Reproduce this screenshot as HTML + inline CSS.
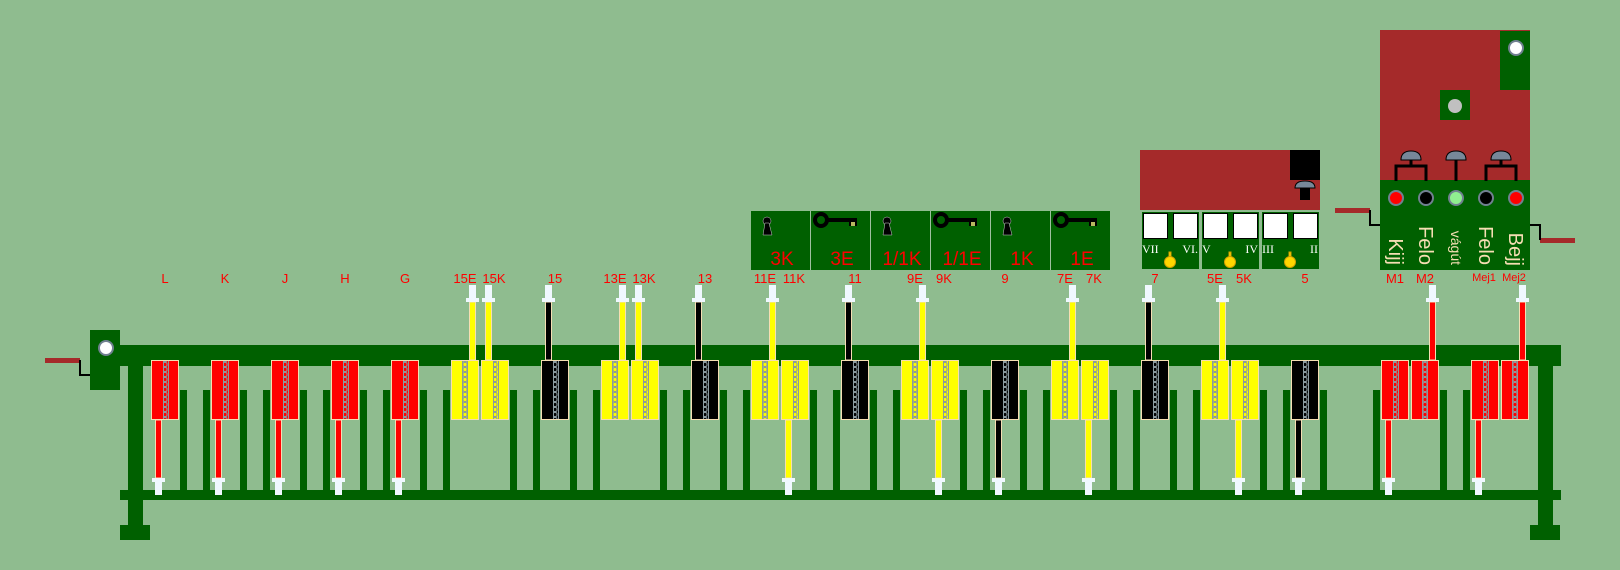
<!DOCTYPE html>
<html><head><meta charset="utf-8"><style>
html,body{margin:0;padding:0;background:#8fbc8f;}
svg{display:block;}
text{font-family:"Liberation Sans",sans-serif;}
</style></head><body>
<svg id="s" width="1620" height="570" xmlns="http://www.w3.org/2000/svg">
<defs>
<pattern id="ch" x="0" y="362" width="6" height="5" patternUnits="userSpaceOnUse">
<rect x="1" y="0.5" width="4" height="4" rx="1.5" fill="none" stroke="#8a9aa0" stroke-width="1"/>
</pattern>
</defs>
<rect width="1620" height="570" fill="#8fbc8f"/>
<g fill="#006000">
<rect x="90" y="330" width="30" height="60"/>
<rect x="120" y="345" width="1441" height="21"/>
<rect x="120" y="490" width="1441" height="10"/>
<rect x="128" y="365" width="15" height="160"/>
<rect x="1538" y="365" width="15" height="160"/>
<rect x="120" y="525" width="30" height="15"/>
<rect x="1530" y="525" width="30" height="15"/>
</g>
<circle cx="106" cy="348" r="7" fill="#fff" stroke="#708090" stroke-width="2"/>
<rect x="45" y="358" width="35" height="5" fill="#a52a2a"/>
<polyline points="80,360 80,375 90,375" fill="none" stroke="#000" stroke-width="2"/>
<g id="pillars" fill="#006000"></g>
<g id="levers"></g>
<g fill="#ff0000" font-size="13" text-anchor="middle">
<text x="165" y="283">L</text><text x="225" y="283">K</text><text x="285" y="283">J</text><text x="345" y="283">H</text><text x="405" y="283">G</text>
<text x="465" y="283">15E</text><text x="494" y="283">15K</text><text x="555" y="283">15</text>
<text x="615" y="283">13E</text><text x="644" y="283">13K</text><text x="705" y="283">13</text>
<text x="765" y="283">11E</text><text x="794" y="283">11K</text><text x="855" y="283">11</text>
<text x="915" y="283">9E</text><text x="944" y="283">9K</text><text x="1005" y="283">9</text>
<text x="1065" y="283">7E</text><text x="1094" y="283">7K</text><text x="1155" y="283">7</text>
<text x="1215" y="283">5E</text><text x="1244" y="283">5K</text><text x="1305" y="283">5</text>
<text x="1395" y="283">M1</text><text x="1425" y="283">M2</text>
<text x="1484" y="281" font-size="11">Mej1</text><text x="1514" y="281" font-size="11">Mej2</text>
</g>
<rect x="751" y="211" width="359" height="59" fill="#006000"/>
<g stroke="#9fc09f" stroke-width="1">
<line x1="810.5" y1="211" x2="810.5" y2="270"/><line x1="870.5" y1="211" x2="870.5" y2="270"/><line x1="930.5" y1="211" x2="930.5" y2="270"/><line x1="990.5" y1="211" x2="990.5" y2="270"/><line x1="1050.5" y1="211" x2="1050.5" y2="270"/>
</g>
<g id="keys"></g>
<g fill="#ff0000" font-size="19" text-anchor="middle">
<text x="782" y="265">3K</text><text x="842" y="265">3E</text><text x="902" y="265">1/1K</text><text x="962" y="265">1/1E</text><text x="1022" y="265">1K</text><text x="1082" y="265">1E</text>
</g>
<rect x="1140" y="150" width="180" height="60" fill="#a52a2a"/>
<rect x="1290" y="150" width="30" height="30" fill="#000"/>
<path d="M1295,188 Q1295,181 1305,181 Q1315,181 1315,188 Z" fill="#778899" stroke="#000" stroke-width="1"/>
<rect x="1300" y="188" width="10" height="12" fill="#000"/>
<g fill="#006000"><rect x="1142" y="212" width="57" height="57"/><rect x="1202" y="212" width="57" height="57"/><rect x="1262" y="212" width="57" height="57"/></g>
<g fill="#fff" stroke="#000" stroke-width="1">
<rect x="1143.5" y="213.5" width="24" height="25"/><rect x="1173.5" y="213.5" width="24" height="25"/>
<rect x="1203.5" y="213.5" width="24" height="25"/><rect x="1233.5" y="213.5" width="24" height="25"/>
<rect x="1263.5" y="213.5" width="24" height="25"/><rect x="1293.5" y="213.5" width="24" height="25"/>
</g>
<g fill="#fff" font-size="12">
<text x="1142" y="253" style="font-family:'Liberation Serif',serif">VII</text><text x="1198" y="253" text-anchor="end" style="font-family:'Liberation Serif',serif">VI.</text>
<text x="1202" y="253" style="font-family:'Liberation Serif',serif">V</text><text x="1258" y="253" text-anchor="end" style="font-family:'Liberation Serif',serif">IV</text>
<text x="1262" y="253" style="font-family:'Liberation Serif',serif">III</text><text x="1318" y="253" text-anchor="end" style="font-family:'Liberation Serif',serif">II</text>
</g>
<g fill="#ffd700" stroke="#d4a000" stroke-width="1">
<rect x="1169" y="252" width="2" height="5"/><circle cx="1170" cy="262" r="5.5"/>
<rect x="1229" y="252" width="2" height="5"/><circle cx="1230" cy="262" r="5.5"/>
<rect x="1289" y="252" width="2" height="5"/><circle cx="1290" cy="262" r="5.5"/>
</g>
<rect x="1380" y="30" width="150" height="150" fill="#a52a2a"/>
<rect x="1500" y="31" width="30" height="59" fill="#006000"/>
<circle cx="1516" cy="48" r="7" fill="#fff" stroke="#708090" stroke-width="2"/>
<rect x="1440" y="90" width="30" height="30" fill="#006000"/>
<circle cx="1455" cy="106" r="7" fill="#c0c0c0"/>
<rect x="1380" y="180" width="150" height="90" fill="#006000"/>
<g fill="#778899" stroke="#000" stroke-width="1">
<path d="M1401,160 Q1401,151 1411,151 Q1421,151 1421,160 Z"/>
<path d="M1446,160 Q1446,151 1456,151 Q1466,151 1466,160 Z"/>
<path d="M1491,160 Q1491,151 1501,151 Q1511,151 1511,160 Z"/>
</g>
<g fill="none" stroke="#000" stroke-width="3">
<polyline points="1396,181 1396,166 1426,166 1426,181"/><line x1="1411" y1="160" x2="1411" y2="166"/>
<line x1="1456" y1="160" x2="1456" y2="181"/>
<polyline points="1486,181 1486,166 1516,166 1516,181"/><line x1="1501" y1="160" x2="1501" y2="166"/>
</g>
<g stroke="#708090" stroke-width="2">
<circle cx="1396" cy="198" r="7" fill="#ff0000"/><circle cx="1426" cy="198" r="7" fill="#000"/>
<circle cx="1456" cy="198" r="7" fill="#90ee90"/><circle cx="1486" cy="198" r="7" fill="#000"/>
<circle cx="1516" cy="198" r="7" fill="#ff0000"/>
</g>
<g fill="#f5deb3" font-size="20" text-anchor="end">
<text transform="translate(1389,265) rotate(90)">Kijj</text>
<text transform="translate(1419,265) rotate(90)">Felo</text>
<text transform="translate(1451,265) rotate(90)" font-size="14">vágút</text>
<text transform="translate(1479,265) rotate(90)">Felo</text>
<text transform="translate(1509,266) rotate(90)">Bejj</text>
</g>
<rect x="1335" y="208" width="35" height="5" fill="#a52a2a"/>
<polyline points="1370,210 1370,225 1380,225" fill="none" stroke="#000" stroke-width="2"/>
<rect x="1540" y="238" width="35" height="5" fill="#a52a2a"/>
<polyline points="1530,225 1540,225 1540,240" fill="none" stroke="#000" stroke-width="2"/>
</svg>
<script>
var NS="http://www.w3.org/2000/svg";
function el(p,t,a){var e=document.createElementNS(NS,t);for(var k in a)e.setAttribute(k,a[k]);p.appendChild(e);return e;}
var P=document.getElementById('pillars');
[[150,180],[210,240],[270,300],[330,360],[390,420],[450,510],[540,570],[600,660],[690,720],[750,810],[840,870],[900,960],[990,1020],[1050,1110],[1140,1170],[1200,1260],[1290,1320],[1380,1440],[1470,1530]].forEach(function(g,i){
 if(i>0)el(P,'rect',{x:g[0]-7,y:390,width:7,height:100});
 if(i<18)el(P,'rect',{x:g[1],y:390,width:7,height:100});
});
var L=document.getElementById('levers');
var R='#ff0000',Y='#ffff00',B='#000000';
var lv=[[150,R,0,5],[210,R,0,5],[270,R,0,5],[330,R,0,5],[390,R,0,5],
[450,Y,1,19],[480,Y,1,5],[540,B,1,5],[600,Y,1,19],[630,Y,1,5],[690,B,1,5],
[750,Y,1,19],[780,Y,0,5],[840,B,1,5],[900,Y,1,19],[930,Y,0,5],[990,B,0,5],
[1050,Y,1,19],[1080,Y,0,5],[1140,B,1,5],[1200,Y,1,19],[1230,Y,0,5],[1290,B,0,5],
[1380,R,0,5],[1410,R,1,19],[1470,R,0,5],[1500,R,1,19]];
lv.forEach(function(v){
 var x=v[0],c=v[1],up=v[2],rx=x+v[3];
 if(up){
  el(L,'rect',{x:rx+0.5,y:302,width:6,height:58,fill:c,stroke:'#f5deb3','stroke-width':1});
  el(L,'rect',{x:rx,y:285,width:7,height:14,fill:'#f0f8ff'});
  el(L,'rect',{x:rx-3,y:298,width:13,height:4,fill:'#f0f8ff'});
 }else{
  el(L,'rect',{x:rx+0.5,y:420,width:6,height:58,fill:c,stroke:'#f5deb3','stroke-width':1});
  el(L,'rect',{x:rx-3,y:478,width:13,height:4,fill:'#f0f8ff'});
  el(L,'rect',{x:rx,y:482,width:7,height:13,fill:'#f0f8ff'});
 }
 el(L,'rect',{x:x+1.5,y:360.5,width:27,height:59,fill:c,stroke:'#f5deb3','stroke-width':1});
 var cx=x+(v[3]==19?12:13);
 el(L,'rect',{x:cx,y:361,width:6,height:58,fill:'url(#ch)'});
 el(L,'line',{x1:cx+0.5,y1:361,x2:cx+0.5,y2:419,stroke:'#8a9aa0','stroke-width':1});
 el(L,'line',{x1:cx+5.5,y1:361,x2:cx+5.5,y2:419,stroke:'#8a9aa0','stroke-width':1});
});
var K=document.getElementById('keys');
[0,2,4].forEach(function(i){var x=751+i*60;
 el(K,'circle',{cx:x+16,cy:221,r:4,fill:'#000',stroke:'#ccc','stroke-width':0.5});
 el(K,'path',{d:'M'+(x+12)+',235 L'+(x+14)+',223 L'+(x+18)+',223 L'+(x+21)+',235 Z',fill:'#000',stroke:'#ccc','stroke-width':0.5});
});
[1,3,5].forEach(function(i){var x=751+i*60;
 el(K,'circle',{cx:x+10,cy:220,r:6,fill:'none',stroke:'#000','stroke-width':4});
 el(K,'rect',{x:x+15,y:218,width:31,height:4,fill:'#000'});
 el(K,'rect',{x:x+38,y:218,width:8,height:8,fill:'#000'});
 el(K,'rect',{x:x+40,y:222,width:4,height:4,fill:'#b8b860'});
});
</script>
</body></html>
